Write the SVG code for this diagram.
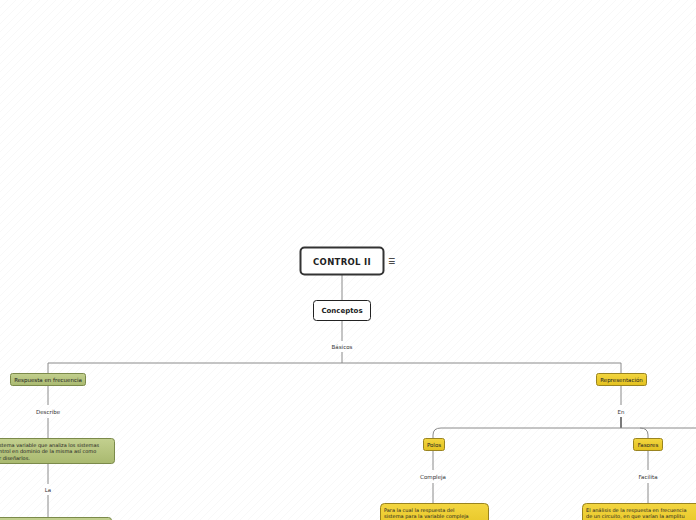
<svg xmlns="http://www.w3.org/2000/svg" width="696" height="520" viewBox="0 0 696 520">
<defs>
<pattern id="bg" width="8" height="8" patternUnits="userSpaceOnUse">
<path d="M0,8 L8,0" stroke="#f3f3f3" stroke-width="0.6"/>
</pattern>
<linearGradient id="gG" x1="0" y1="0" x2="0" y2="1"><stop offset="0" stop-color="#c3d08f"/><stop offset="1" stop-color="#a9b96f"/></linearGradient>
<linearGradient id="gY" x1="0" y1="0" x2="0" y2="1"><stop offset="0" stop-color="#f3d640"/><stop offset="1" stop-color="#e3c11f"/></linearGradient>
</defs>
<style>
text{font-family:"DejaVu Sans","Liberation Sans",sans-serif;fill:#222}
.lbl{font-size:5.5px;text-anchor:middle;fill:#333}
.c{fill:none;stroke:#8a8a8a;stroke-width:1}
.green{fill:url(#gG);stroke:#7b8a4a;stroke-width:1}
.yellow{fill:url(#gY);stroke:#9a8420;stroke-width:1}
.nt{font-size:5.5px;text-anchor:middle}
.bt{font-size:5px}
</style>
<rect width="696" height="520" fill="#fff"/>
<rect width="696" height="520" fill="url(#bg)"/>
<g id="connectors">
<path class="c" d="M342,274 V300" stroke="#444"/>
<path class="c" d="M342,320 V341"/>
<path class="c" d="M342,352 V363"/>
<path class="c" d="M48,373 V363 H621 V373"/>
<path class="c" d="M48,385 V405"/>
<path class="c" d="M48,418 V438"/>
<path class="c" d="M48,463 V484"/>
<path class="c" d="M48,495 V517"/>
<path class="c" d="M621,385 V405"/>
<path d="M621,417 V428" fill="none" stroke="#222" stroke-width="1.2"/>
<path class="c" d="M433,438 V435 Q433,428 441,428 H696"/>
<path class="c" d="M640,428 Q648,428 648,435 V438"/>
<path class="c" d="M433,450 V470"/>
<path class="c" d="M433,483 V503"/>
<path class="c" d="M648,450 V470"/>
<path class="c" d="M648,483 V503"/>
<text class="lbl" x="342" y="349">Básicos</text>
<text class="lbl" x="48" y="414">Describe</text>
<text class="lbl" x="48" y="492">La</text>
<text class="lbl" x="621" y="414">En</text>
<text class="lbl" x="433" y="479">Compleja</text>
<text class="lbl" x="648" y="479">Facilita</text>
</g>
<g id="control">
<rect x="300.5" y="247.5" width="83" height="27" rx="4" fill="#fff" stroke="#333" stroke-width="2"/>
<text x="342" y="264.5" font-size="8.5" font-weight="bold" text-anchor="middle" letter-spacing="0.3">CONTROL II</text>
<text x="391.5" y="264" font-size="8" text-anchor="middle" fill="#444">☰</text>
</g>
<g id="conceptos">
<rect x="313.5" y="300.5" width="57" height="20" rx="3" fill="#fff" stroke="#222"/>
<text x="342" y="313" font-size="7" font-weight="bold" text-anchor="middle">Conceptos</text>
</g>
<g id="respuesta">
<rect class="green" x="10.5" y="373.5" width="75" height="12" rx="2"/>
<text class="nt" x="48" y="381.8">Respuesta en frecuencia</text>
</g>
<g id="sistema">
<rect class="green" x="-10.5" y="438.5" width="125" height="25" rx="3"/>
<text class="bt" x="-1" y="446.5">stema variable que analiza los sistemas</text>
<text class="bt" x="-1" y="453">ntrol en dominio de la misma así como</text>
<text class="bt" x="-1" y="459.5">r diseñarlos.</text>
</g>
<g id="la-node">
<rect class="green" x="-10.5" y="517.5" width="122" height="20" rx="3"/>
</g>
<g id="representacion">
<rect class="yellow" x="596.5" y="373.5" width="50" height="12" rx="2"/>
<text class="nt" x="621.5" y="381.8">Representación</text>
</g>
<g id="polos">
<rect class="yellow" x="423.5" y="438.5" width="21" height="12" rx="2"/>
<text class="nt" x="434" y="446.8">Polos</text>
</g>
<g id="fasores">
<rect class="yellow" x="633.5" y="438.5" width="29" height="12" rx="2"/>
<text class="nt" x="648" y="446.8">Fasores</text>
</g>
<g id="polos-text">
<rect class="yellow" x="380.5" y="503.5" width="108" height="30" rx="4"/>
<text class="bt" x="384" y="511.5">Para la cual la respuesta del</text>
<text class="bt" x="384" y="518">sistema para la variable compleja</text>
</g>
<g id="fasores-text">
<rect class="yellow" x="582.5" y="503.5" width="130" height="30" rx="4"/>
<text class="bt" x="586" y="511.5">El análisis de la respuesta en frecuencia</text>
<text class="bt" x="586" y="518">de un circuito, en que varían la amplitu</text>
</g>
</svg>
